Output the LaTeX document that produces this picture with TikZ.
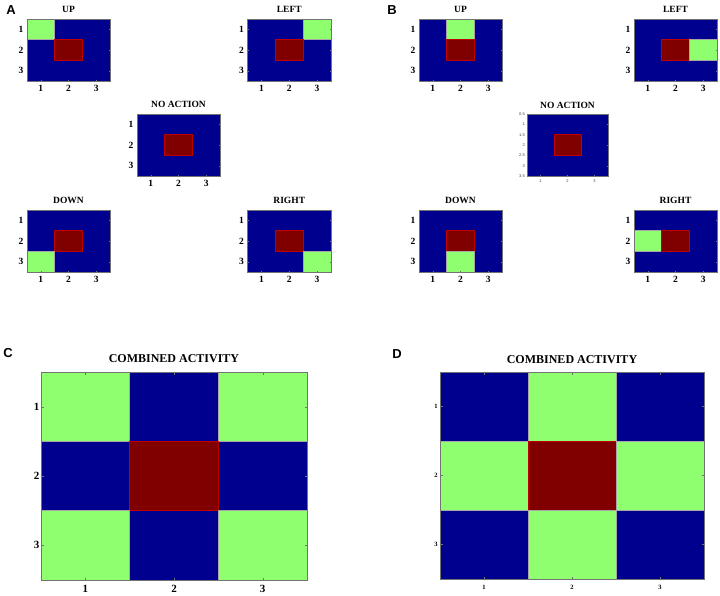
\documentclass[tikz,border=0pt]{standalone}
\usepackage{fontspec}
\setmainfont{Liberation Serif}
\newfontfamily\lsans{Liberation Sans}
\definecolor{jblue}{HTML}{00008F}
\definecolor{jgreen}{HTML}{8FFF70}
\definecolor{jred}{HTML}{800000}
\tikzset{
  cellB/.style={fill=jblue}, cellG/.style={fill=jgreen}, cellR/.style={fill=jred},
  lineB/.style={}, lineG/.style={draw=black!35, line width=0.4pt},
  lineR/.style={draw=red!75!black, line width=0.4pt},
  frame/.style={draw=black!55, line width=0.5pt},
  tickm/.style={draw=black!55, line width=0.3pt},
  ttl/.style={font=\bfseries\fontsize{9.5}{10}\selectfont, inner sep=0pt},
  tkl/.style={font=\bfseries\fontsize{9.5}{10}\selectfont, inner sep=0pt},
  bigttl/.style={font=\bfseries\fontsize{12}{13}\selectfont, inner sep=0pt},
  ctkl/.style={font=\bfseries\fontsize{11}{12}\selectfont, inner sep=0pt},
  dtkl/.style={font=\bfseries\fontsize{6.5}{7}\selectfont, inner sep=0pt},
  btkl/.style={font=\lsans\fontsize{4}{5}\selectfont, text=black!75, inner sep=0pt},
  panel/.style={font=\lsans\bfseries\fontsize{13}{14}\selectfont, inner sep=0pt},
}
% #1 x0, #2 y0, #3 x1, #4 y1, #5 colours, #6 tick length
\newcommand\hcells[6]{%
  \pgfmathsetmacro\hw{(#3-#1)/3}%
  \pgfmathsetmacro\hh{(#4-#2)/3}%
  \foreach \cc [count=\k from 0] in {#5} {%
    \pgfmathtruncatemacro\rr{\k/3}%
    \pgfmathtruncatemacro\qq{mod(\k,3)}%
    \path[cell\cc] ({#1+\qq*\hw},{#2+\rr*\hh}) rectangle ++(\hw,\hh);
  }%
  \foreach \cc [count=\k from 0] in {#5} {%
    \pgfmathtruncatemacro\rr{\k/3}%
    \pgfmathtruncatemacro\qq{mod(\k,3)}%
    \path[line\cc] ({#1+\qq*\hw},{#2+\rr*\hh}) rectangle ++(\hw,\hh);
  }%
  \foreach \k in {0,1,2} {%
    \draw[tickm] ({#1+(\k+0.5)*\hw},#2) -- ++(0,#6);
    \draw[tickm] ({#1+(\k+0.5)*\hw},#4) -- ++(0,-#6);
    \draw[tickm] (#1,{#2+(\k+0.5)*\hh}) -- ++(#6,0);
    \draw[tickm] (#3,{#2+(\k+0.5)*\hh}) -- ++(-#6,0);
  }%
  \draw[frame] (#1,#2) rectangle (#3,#4);
}
% #1 name, #2 x0, #3 y0, #4 x1, #5 y1, #6 dx, #7 dy, #8 style
\newcommand\hlabels[8]{%
  \pgfmathsetmacro\hw{(#4-#2)/3}%
  \pgfmathsetmacro\hh{(#5-#3)/3}%
  \foreach \k in {1,2,3} {%
    \node[#8] (#1-y\k) at ({#2-#6},{#3+(\k-0.5)*\hh}) {\k};
    \node[#8] (#1-x\k) at ({#2+(\k-0.5)*\hw},{#5+#7}) {\k};
  }%
}
% #1 name, #2 x0, #3 y0, #4 x1, #5 y1, #6 colours, #7 title
\newcommand\smallmap[7]{%
  \hcells{#2}{#3}{#4}{#5}{#6}{1.2}%
  \node[ttl] (#1-t) at ({(#2+#4)/2},{#3-10}) {#7};
  \hlabels{#1}{#2}{#3}{#4}{#5}{6}{7.5}{tkl}%
}
\begin{document}
\begin{tikzpicture}[x=1pt,y=-1pt]
\path[fill=white] (0,0) rectangle (720,595);
\useasboundingbox (0,0) rectangle (720,595);
% panel letters
\node[panel] (pA) at (11,10) {A};
\node[panel] (pB) at (392,10) {B};
\node[panel] (pC) at (8,353) {C};
\node[panel] (pD) at (397,354) {D};
% panel A
\smallmap{aup}{27}{19}{110}{81}{G,B,B,B,R,B,B,B,B}{UP}
\smallmap{aleft}{247.5}{19}{331}{81}{B,B,G,B,R,B,B,B,B}{LEFT}
\smallmap{ano}{137}{114}{220}{176}{B,B,B,B,R,B,B,B,B}{NO ACTION}
\smallmap{adown}{27}{210}{110}{272}{B,B,B,B,R,B,G,B,B}{DOWN}
\smallmap{aright}{247.5}{210}{331}{272}{B,B,B,B,R,B,B,B,G}{RIGHT}
% panel B
\smallmap{bup}{419}{19}{502}{81}{B,G,B,B,R,B,B,B,B}{UP}
\smallmap{bleft}{634}{19}{717}{81}{B,B,B,B,R,G,B,B,B}{LEFT}
\smallmap{bdown}{419}{210}{502}{272}{B,B,B,B,R,B,B,G,B}{DOWN}
\smallmap{bright}{634}{210}{717}{272}{B,B,B,G,R,B,B,B,B}{RIGHT}
% B no action (different axis labels)
\hcells{527}{114}{608}{176}{B,B,B,B,R,B,B,B,B}{1}
\node[ttl] (bno-t) at (567.5,105) {NO ACTION};
\foreach \v [count=\k from 0] in {0.5,1,1.5,2,2.5,3,3.5} {
  \node[btkl, anchor=east] (bno-y\k) at (525,{114+\k*62/6}) {\v};
}
\foreach \k in {1,2,3} {
  \node[btkl] (bno-x\k) at ({527+(\k-0.5)*27},181) {\k};
}
% panel C
\hcells{41}{372}{307}{580}{G,B,G,B,R,B,G,B,G}{2.5}
\node[bigttl] (c-t) at (174,359) {COMBINED ACTIVITY};
\hlabels{c}{41}{372}{307}{580}{4.5}{9}{ctkl}
% panel D
\hcells{440}{372}{704}{579}{B,G,B,G,R,G,B,G,B}{2.5}
\node[bigttl] (d-t) at (572,360) {COMBINED ACTIVITY};
\hlabels{d}{440}{372}{704}{579}{4}{8}{dtkl}
\end{tikzpicture}
\end{document}
